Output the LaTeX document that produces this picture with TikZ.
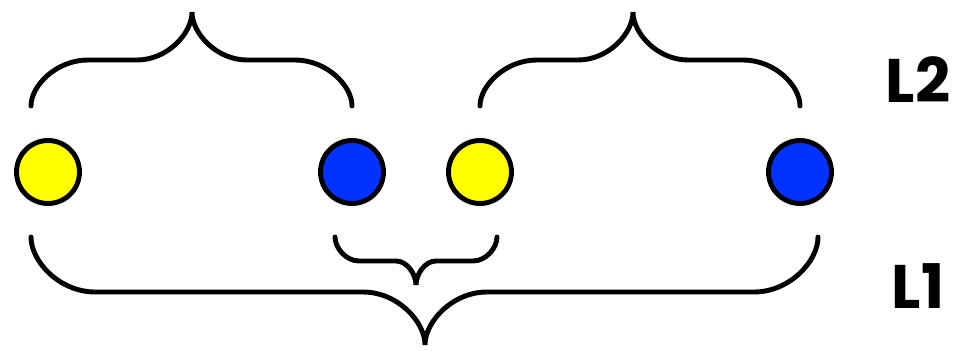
\documentclass[tikz,border=0pt]{standalone}
\usepackage{fontspec}
\usepackage{xcolor}
\usepackage{tikz}
\usetikzlibrary{positioning}
\newfontfamily\lblfont{Poppins}
\definecolor{dotyellow}{HTML}{FFFF00}
\definecolor{dotblue}{HTML}{0033FF}

% curly bracket: #1 left x, #2 right x, #3 tip x, #4 end y, #5 middle y, #6 tip y, #7 corner width, #8 tip width
\newcommand{\curly}[8]{%
  \draw[brace line] (#1,#4) .. controls (#1,{#5+0.552*(#4-#5)}) and ({#1+0.448*#7},#5) .. ({#1+#7},#5)
    -- ({#3-#8},#5) .. controls ({#3-0.448*#8},#5) and (#3,{#5+0.552*(#6-#5)}) .. (#3,#6)
    .. controls (#3,{#5+0.552*(#6-#5)}) and ({#3+0.448*#8},#5) .. ({#3+#8},#5)
    -- ({#2-#7},#5) .. controls ({#2-0.448*#7},#5) and (#2,{#5+0.552*(#4-#5)}) .. (#2,#4);}

\tikzset{
  dot/.style={circle, draw=black, line width=2.8pt, minimum size=1.26cm, inner sep=0pt},
  brace line/.style={line width=2.8pt, line cap=round},
  level/.style={font=\lblfont\bfseries\fontsize{35}{36}\selectfont, inner sep=0pt}
}

\begin{document}
\begin{tikzpicture}[x=0.02cm, y=-0.02cm]
  \useasboundingbox (0,0) rectangle (959,351);

  \node[dot, fill=dotyellow] (y1) at (48,172) {};
  \node[dot, fill=dotblue]   (b1) at (352,172) {};
  \node[dot, fill=dotyellow] (y2) at (480,172) {};
  \node[dot, fill=dotblue]   (b2) at (800,172) {};

  \node[level] (lbl2) at (918,80) {L2};
  \node[level] (lbl1) at (918,286) {L1};

  % upper braces
  \curly{31}{352}{192}{106}{60}{12}{57}{55}
  \curly{480}{800}{633}{106}{60}{12}{57}{55}
  % lower braces
  \curly{335}{497}{416}{237}{261}{285}{24}{20}
  \curly{31}{818}{425}{237}{292}{345}{64}{62}
\end{tikzpicture}
\end{document}
